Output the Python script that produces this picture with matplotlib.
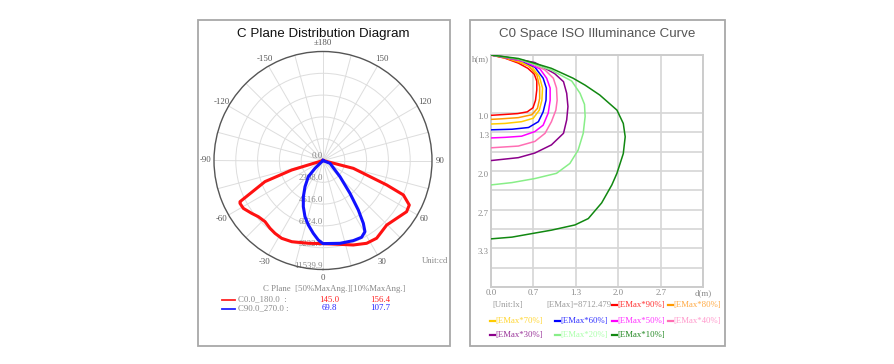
import numpy as np
import matplotlib.pyplot as plt
from matplotlib.patches import Rectangle
from matplotlib.lines import Line2D

W, H = 894, 364

# ---- polar diagram data (angle in degrees, intensity in cd) ----
c0_angles = [-80, -73.1, -70, -63.6, -62.7, -59, -53.5, -49, -43.5, -38, -33.4, -28, -21, -10, 0,
             11.5, 19.7, 27.8, 34.6, 39.5, 44.6, 51.9, 58.5, 62.7, 66.8, 69, 75.5, 80]
c0_values = [0, 3466, 6537, 9810, 9890, 9840, 9400, 9070, 8920, 9110, 9235, 9330, 9210, 8900, 8800,
             9060, 9500, 9910, 10000, 9765, 9600, 9920, 10380, 10280, 9260, 7220, 3320, 0]
c90_angles = [-55, -45.6, -42.2, -34.5, -28.5, -23.1, -17.8, -12.8, -7.6, -3.4, 0,
              11.6, 20.7, 26.7, 30.5, 32.7, 35.5, 39.4, 46.4, 68, 75]
c90_values = [0, 1185, 2311, 3363, 4358, 5312, 6243, 7003, 7778, 8430, 8800,
              8950, 9070, 9100, 8750, 7905, 6440, 4500, 2484, 800, 0]
r_max = 11539.9
ring_values = [0, 2308.0, 4616.0, 6924.0, 9232.0, 11539.9]
ring_labels = ["0.0", "2308.0", "4616.0", "6924.0", "9232.0", "11539.9"]
theta_label_angles = [0, 30, 60, 90, 120, 150, 180, 210, 240, 270, 300, 330]
theta_labels = ["0", "30", "60", "90", "120", "150", "\u00b1180",
                "-150", "-120", "-90", "-60", "-30"]

# ---- isolux curve data (d in m, h in m) ----
iso_names = ["90%", "80%", "70%", "60%", "50%", "40%", "30%", "20%", "10%"]
iso_colors = ["#ff0000", "#ff9900", "#ffcc00", "#0000ff", "#ff00ff", "#ff6eb4",
              "#8b008b", "#88ee88", "#118811"]
iso_text_colors = ["#ff3333", "#ffaa44", "#ffd633", "#3333ff", "#ff33ff", "#ff99cc",
                   "#993399", "#aaffaa", "#228822"]
iso_d = [
    [0, 0.22, 0.43, 0.58, 0.68, 0.72, 0.72, 0.70, 0.66, 0.57, 0.42, 0.22, 0],
    [0, 0.22, 0.43, 0.59, 0.72, 0.765, 0.765, 0.73, 0.64, 0.43, 0.17, 0],
    [0, 0.22, 0.43, 0.64, 0.76, 0.81, 0.80, 0.76, 0.665, 0.48, 0.22, 0],
    [0, 0.22, 0.48, 0.69, 0.82, 0.87, 0.865, 0.82, 0.745, 0.59, 0.33, 0],
    [0, 0.22, 0.53, 0.77, 0.875, 0.93, 0.93, 0.90, 0.82, 0.69, 0.48, 0.22, 0],
    [0, 0.22, 0.59, 0.85, 0.98, 1.03, 1.04, 1.02, 0.95, 0.85, 0.69, 0.43, 0],
    [0, 0.22, 0.69, 1.0, 1.14, 1.19, 1.21, 1.19, 1.14, 0.95, 0.69, 0.43, 0],
    [0, 0.43, 0.95, 1.27, 1.40, 1.47, 1.48, 1.45, 1.37, 1.24, 1.03, 0.69, 0.33, 0],
    [0, 0.43, 0.77, 0.95, 1.29, 1.48, 1.71, 1.98, 2.08, 2.11, 2.08, 1.98, 1.90, 1.74,
     1.53, 1.32, 0.95, 0.69, 0.33, 0],
]
iso_h = [
    [0, 0.055, 0.14, 0.23, 0.33, 0.45, 0.60, 0.78, 0.91, 0.98, 1.01, 1.025, 1.04],
    [0, 0.05, 0.12, 0.19, 0.34, 0.55, 0.75, 0.92, 1.03, 1.08, 1.10, 1.11],
    [0, 0.045, 0.105, 0.20, 0.37, 0.57, 0.78, 0.95, 1.09, 1.15, 1.18, 1.19],
    [0, 0.042, 0.10, 0.21, 0.40, 0.57, 0.78, 0.98, 1.15, 1.25, 1.28, 1.29],
    [0, 0.04, 0.115, 0.24, 0.40, 0.57, 0.78, 1.0, 1.21, 1.32, 1.40, 1.42, 1.43],
    [0, 0.037, 0.115, 0.26, 0.40, 0.57, 0.78, 0.95, 1.15, 1.35, 1.49, 1.57, 1.60],
    [0, 0.034, 0.13, 0.32, 0.46, 0.66, 0.89, 1.12, 1.35, 1.55, 1.69, 1.77, 1.82],
    [0, 0.07, 0.26, 0.45, 0.66, 0.85, 1.06, 1.35, 1.64, 1.87, 2.04, 2.13, 2.20, 2.24],
    [0, 0.06, 0.17, 0.23, 0.40, 0.52, 0.69, 0.95, 1.18, 1.41, 1.70, 2.04, 2.24, 2.55,
     2.82, 2.93, 3.02, 3.07, 3.14, 3.17],
]
x_ticks = [0, 2 / 3, 4 / 3, 2, 8 / 3, 10 / 3]
x_ticklabels = ["0.0", "0.7", "1.3", "2.0", "2.7", "d(m)"]
y_ticks = [0, 1, 4 / 3, 5 / 3, 2, 7 / 3, 8 / 3, 3, 10 / 3, 11 / 3, 4]
y_ticklabels = ["h(m)", "1.0", "1.3", "", "2.0", "", "2.7", "", "3.3", "", ""]
emax = 8712.479

SERIF = "Liberation Serif"
SANS = "Liberation Sans"
SMALL = 6.3


def fbox(x0, y0, x1, y1):
    return [x0 / W, 1 - y1 / H, (x1 - x0) / W, (y1 - y0) / H]


def fxy(x, y):
    return x / W, 1 - y / H


fig = plt.figure(figsize=(W / 100, H / 100), dpi=100)

# panel frames
for x0, x1 in [(197.5, 450), (470.5, 725)]:
    fig.patches.append(Rectangle(fxy(x0, 345.5), (x1 - x0) / W, 325.5 / H,
                                 transform=fig.transFigure, fill=False,
                                 edgecolor="#a8a8a8", lw=1.3))

# ---------------- left: polar ----------------
ax = fig.add_axes(fbox(214, 51.5, 432, 269.5), projection="polar")
ax.set_theta_zero_location("S")
ax.set_theta_direction(1)
ax.set_ylim(0, r_max)
ax.set_yticks(ring_values[1:-1])
ax.set_yticklabels([])
ax.set_xticks(np.deg2rad(np.arange(0, 360, 15)))
ax.set_xticklabels([])
ax.tick_params(axis="x", length=0)
ax.grid(color="#dddddd", lw=0.7)
ax.spines["polar"].set_color("#555555")
ax.spines["polar"].set_linewidth(1.0)

for t, lab in zip(theta_label_angles, theta_labels):
    ax.text(np.deg2rad(t), r_max * 1.075, lab, ha="center", va="center",
            fontfamily=SERIF, fontsize=SMALL, color="#555555", clip_on=False)

for r, lab in zip(ring_values, ring_labels):
    ax.text(0, r, lab, ha="right", va="bottom", fontfamily=SERIF, fontsize=SMALL,
            color="#888888", zorder=2)

ax.plot(np.deg2rad(c0_angles), c0_values, color="#ff1111", lw=2.2, zorder=4)
ax.plot(np.deg2rad(c90_angles), c90_values, color="#1111ff", lw=2.2, zorder=4)

fig.text(*fxy(323.5, 34), "C Plane Distribution Diagram", ha="center", va="center",
         fontfamily=SANS, fontsize=9.6, color="#111111")
fig.text(*fxy(448, 261), "Unit:cd", ha="right", va="center", fontfamily=SERIF,
         fontsize=SMALL, color="#888888")

# legend of the polar diagram
fig.text(*fxy(263, 289), "C Plane  [50%MaxAng.][10%MaxAng.]", ha="left", va="center",
         fontfamily=SERIF, fontsize=SMALL, color="#888888")
rows = [("C0.0_180.0  :", "145.0", "156.4", "#ff2222", 299.5),
        ("C90.0_270.0 :", "69.8", "107.7", "#2222ff", 308.5)]
for name, a50, a10, col, y in rows:
    fig.add_artist(Line2D([221.5 / W, 235 / W], [1 - y / H, 1 - y / H], color=col, lw=1.3))
    fig.text(*fxy(238.5, y), name, ha="left", va="center", fontfamily=SERIF,
             fontsize=SMALL, color="#888888")
    fig.text(*fxy(329, y), a50, ha="center", va="center", fontfamily=SERIF,
             fontsize=SMALL, color=col)
    fig.text(*fxy(380, y), a10, ha="center", va="center", fontfamily=SERIF,
             fontsize=SMALL, color=col)

# ---------------- right: isolux ----------------
ax2 = fig.add_axes(fbox(491, 55, 703, 287))
for d, h, c in zip(iso_d, iso_h, iso_colors):
    ax2.plot(d, h, color=c, lw=1.1, zorder=3)
ax2.set_xlim(0, 10 / 3)
ax2.set_ylim(4, 0)
ax2.set_xticks(x_ticks)
ax2.set_xticklabels(x_ticklabels, fontfamily=SERIF, fontsize=SMALL, color="#888888")
ax2.set_yticks(y_ticks)
ax2.set_yticklabels(y_ticklabels, fontfamily=SERIF, fontsize=SMALL, color="#888888")
for lbl in ax2.get_yticklabels():
    lbl.set_va("top")
ax2.tick_params(length=0, pad=1.5)
ax2.grid(color="#d6d6d6", lw=1.2, zorder=0)
for s in ax2.spines.values():
    s.set_color("#cccccc")
    s.set_linewidth(1.4)

fig.text(*fxy(597, 34), "C0 Space ISO Illuminance Curve", ha="center", va="center",
         fontfamily=SANS, fontsize=9.6, color="#555555")

fig.text(*fxy(492, 305), "[Unit:lx]", ha="left", va="center", fontfamily=SERIF,
         fontsize=SMALL, color="#999999")
fig.text(*fxy(546, 305), "[EMax]=%.3f" % emax, ha="left", va="center", fontfamily=SERIF,
         fontsize=SMALL, color="#999999")
slots = [(612, 305), (668, 305), (490, 320.5), (555, 320.5), (612, 320.5), (668, 320.5),
         (490, 335), (555, 335), (612, 335)]
for (x, y), name, c, tc in zip(slots, iso_names, iso_colors, iso_text_colors):
    fig.add_artist(Line2D([x / W, (x + 4.5) / W], [1 - y / H, 1 - y / H], color=c, lw=1.6))
    fig.text(*fxy(x + 5.5, y), "[EMax*%s]" % name, ha="left", va="center",
             fontfamily=SERIF, fontsize=SMALL, color=tc)

fig.savefig("out.png", dpi=100)
